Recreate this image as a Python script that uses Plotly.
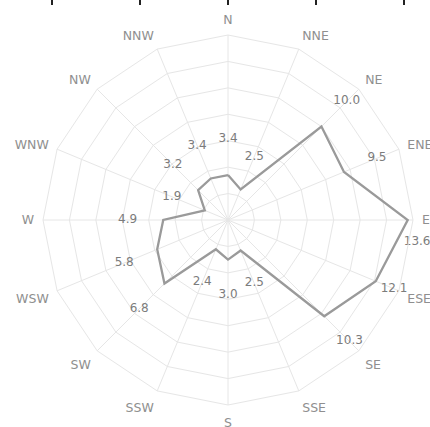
import plotly.graph_objects as go

directions = ["N", "NNE", "NE", "ENE", "E", "ESE", "SE", "SSE",
              "S", "SSW", "SW", "WSW", "W", "WNW", "NW", "NNW"]
values = [3.4, 2.5, 10.0, 9.5, 13.6, 12.1, 10.3, 2.5,
          3.0, 2.4, 6.8, 5.8, 4.9, 1.9, 3.2, 3.4]
value_labels = ["3.4", "2.5", "10.0", "9.5", "13.6", "12.1", "10.3", "2.5",
                "3.0", "2.4", "6.8", "5.8", "4.9", "1.9", "3.2", "3.4"]

# label placement (offset outward in radial units, anchor, line drop)
label_offset = [2.7] * 16
label_offset[4] = -0.3
label_offset[5] = 1.5
label_pos = ["middle center"] * 16
label_pos[4] = "bottom right"
label_drop = [False] * 16
label_drop[4] = True
shown_labels = [("<br>" + t) if d else t
                for t, d in zip(value_labels, label_drop)]

W, H = 430, 427
cx, cy, R = 228, 220, 185

FONT = "DejaVu Sans"

fig = go.Figure()

fig.add_trace(go.Scatterpolar(
    r=values + values[:1],
    theta=directions + directions[:1],
    mode="lines",
    line=dict(color="#9a9a9a", width=2.3),
    hoverinfo="skip",
    showlegend=False,
))

fig.add_trace(go.Scatterpolar(
    r=[v + o for v, o in zip(values, label_offset)],
    theta=directions,
    mode="text",
    text=shown_labels,
    textposition=label_pos,
    textfont=dict(family=FONT, size=12, color="#7c7c7c"),
    cliponaxis=False,
    hoverinfo="skip",
    showlegend=False,
))

# cut-off axis fragment at the very top edge
fig.add_trace(go.Scatter(x=[None], y=[None], xaxis="x", yaxis="y",
                         showlegend=False, hoverinfo="skip"))

fig.update_layout(
    width=W, height=H,
    margin=dict(l=0, r=0, t=0, b=0),
    paper_bgcolor="white",
    plot_bgcolor="rgba(0,0,0,0)",
    font=dict(family=FONT, size=11, color="#8c8c8c"),
    polar=dict(
        domain=dict(x=[(cx - R) / W, (cx + R) / W],
                    y=[(H - cy - R) / H, (H - cy + R) / H]),
        bgcolor="white",
        gridshape="linear",
        radialaxis=dict(range=[0, 14], dtick=2, showticklabels=False,
                        ticks="", showline=False,
                        gridcolor="#e6e6e6", gridwidth=1),
        angularaxis=dict(rotation=90, direction="clockwise",
                         categoryorder="array", categoryarray=directions,
                         ticks="outside", ticklen=6,
                         tickcolor="rgba(0,0,0,0)",
                         showline=True, linecolor="#e6e6e6",
                         linewidth=1, gridcolor="#e6e6e6",
                         tickfont=dict(family=FONT, size=12.5,
                                       color="#8f8f8f")),
    ),
    xaxis=dict(domain=[0, 1], range=[-52 / 88, (W - 52) / 88], dtick=1,
               tick0=0, side="top", ticks="inside", ticklen=5, tickwidth=2,
               tickcolor="#222", showticklabels=False, showgrid=False,
               zeroline=False, showline=False, anchor="y", fixedrange=True),
    yaxis=dict(domain=[0, 1], range=[0, 1], visible=False, fixedrange=True),
)

fig.write_html("out.html",
               config={"displayModeBar": False},
               post_script="document.body.style.margin='0';")
